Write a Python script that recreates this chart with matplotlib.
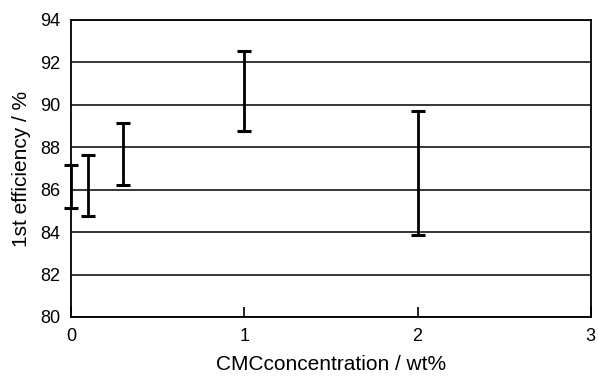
import numpy as np
import matplotlib.pyplot as plt

plt.rcParams['font.family'] = ['Liberation Sans', 'DejaVu Sans']

# CMC concentration (wt%) and range of 1st efficiency (%)
cmc = [0, 0.1, 0.3, 1, 2]
eff_low = [85.15, 84.75, 86.2, 88.75, 83.85]
eff_high = [87.15, 87.65, 89.15, 92.55, 89.7]

low = np.array(eff_low)
high = np.array(eff_high)
mid = (low + high) / 2

fig, ax = plt.subplots(figsize=(5.98, 3.76), dpi=100)
fig.subplots_adjust(left=0.119, right=0.988, top=0.947, bottom=0.157)

ax.set_axisbelow(True)
ax.grid(axis='y', color='black', linewidth=1.1)
ax.errorbar(cmc, mid, yerr=[mid - low, high - mid], fmt='none', ecolor='black',
            elinewidth=2, capsize=5, capthick=2.2, clip_on=False, zorder=3)

ax.set_xlim(0, 3)
ax.set_ylim(80, 94)
ax.set_xticks([0, 1, 2, 3])
ax.set_yticks(np.arange(80, 95, 2))
ax.tick_params(axis='x', direction='in', length=7, width=1.2, labelsize=13, pad=8)
ax.tick_params(axis='y', length=0, labelsize=13, pad=8)
for s in ax.spines.values():
    s.set_linewidth(1.3)

ax.set_xlabel('CMCconcentration / wt%', fontsize=15, labelpad=7)
ax.set_ylabel('1st efficiency / %', fontsize=15, labelpad=6)

fig.savefig('out.png')
